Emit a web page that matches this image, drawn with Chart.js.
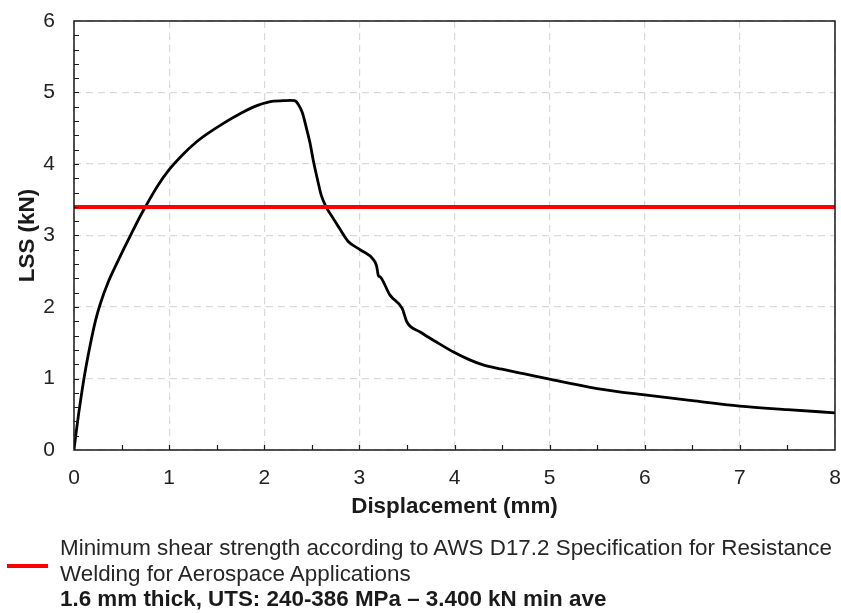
<!DOCTYPE html>
<html>
<head>
<meta charset="utf-8">
<script src="https://cdn.jsdelivr.net/npm/chart.js@4/dist/chart.umd.min.js"></script>
<style>
  html, body { margin: 0; padding: 0; background: #fff; }
  #wrap { position: relative; width: 841px; height: 613px; overflow: hidden; }
  canvas { position: absolute; left: 0; top: 0; }
  #legend { position: absolute; left: 0; top: 535px; width: 841px; font-family: "Liberation Sans", Arial, sans-serif; font-size: 22.4px; color: #262626; }
  #legend .swatch { position: absolute; left: 7px; top: 29px; width: 41px; height: 4px; background: #ff0000; }
  #legend .txt { position: absolute; left: 60px; top: 0; line-height: 25.5px; white-space: nowrap; }
  #legend b { color: #1a1a1a; }
</style>
</head>
<body>
<div id="wrap">
  <canvas id="c" width="841" height="613"></canvas>
  <div id="legend">
    <div class="swatch"></div>
    <div class="txt">Minimum shear strength according to AWS D17.2 Specification for Resistance<br>Welding for Aerospace Applications<br><b>1.6 mm thick, UTS: 240-386 MPa – 3.400 kN min ave</b></div>
  </div>
</div>
<script>
// ---- data ----
const displacement = [0, 0.02, 0.05, 0.088, 0.123, 0.175, 0.228, 0.28, 0.36, 0.45, 0.526, 0.62, 0.7, 0.754, 0.877, 1.0, 1.158, 1.28, 1.4, 1.579, 1.754, 1.93, 2.1, 2.2, 2.27, 2.32, 2.36, 2.4, 2.44, 2.48, 2.52, 2.56, 2.6, 2.65, 2.72, 2.8, 2.88, 3.01, 3.15, 3.18, 3.2, 3.22, 3.32, 3.45, 3.5, 3.64, 3.81, 3.99, 4.16, 4.3, 4.5, 4.75, 5.0, 5.5, 6.0, 6.5, 7.0, 7.5, 8.0];
const loadKN       = [0, 0.22, 0.52, 0.86, 1.14, 1.5, 1.82, 2.06, 2.35, 2.61, 2.82, 3.07, 3.28, 3.41, 3.69, 3.92, 4.15, 4.3, 4.42, 4.575, 4.71, 4.82, 4.88, 4.885, 4.89, 4.885, 4.83, 4.72, 4.52, 4.3, 4.02, 3.78, 3.56, 3.4, 3.25, 3.08, 2.92, 2.8, 2.66, 2.58, 2.44, 2.42, 2.17, 1.98, 1.79, 1.65, 1.51, 1.37, 1.26, 1.19, 1.13, 1.06, 0.99, 0.86, 0.77, 0.69, 0.615, 0.565, 0.52];
const minShearKN = 3.4;
const xRange = [0, 8];
const yRange = [0, 6];

const curvePts = displacement.map((d, i) => ({ x: d, y: loadKN[i] }));
const minPts = [{ x: xRange[0], y: minShearKN }, { x: xRange[1], y: minShearKN }];

const FONT = '"Liberation Sans", Arial, sans-serif';

const framePlugin = {
  id: 'frame',
  afterDatasetsDraw(chart) {
    const { ctx, chartArea: a, scales: { x, y } } = chart;
    ctx.save();
    ctx.strokeStyle = '#1a1a1a';
    ctx.lineWidth = 1.5;
    ctx.strokeRect(a.left, a.top, a.right - a.left, a.bottom - a.top);
    ctx.lineWidth = 1.2;
    ctx.beginPath();
    for (let v = yRange[0] + 0.2; v < yRange[1] - 1e-6; v += 0.2) {
      const py = Math.round(y.getPixelForValue(v)) + 0.5;
      ctx.moveTo(a.left, py); ctx.lineTo(a.left + 5, py);
    }
    for (let v = xRange[0] + 0.5; v < xRange[1] - 1e-6; v += 0.5) {
      const px = Math.round(x.getPixelForValue(v)) + 0.5;
      ctx.moveTo(px, a.bottom); ctx.lineTo(px, a.bottom - 5);
    }
    ctx.stroke();
    ctx.restore();
  }
};

new Chart(document.getElementById('c'), {
  type: 'scatter',
  data: {
    datasets: [
      { label: 'Minimum', data: minPts, showLine: true, borderColor: '#ff0000', borderWidth: 4, pointRadius: 0, fill: false },
      { label: 'LSS', data: curvePts, showLine: true, borderColor: '#000000', borderWidth: 2.8, pointRadius: 0, cubicInterpolationMode: 'monotone', fill: false }
    ]
  },
  options: {
    responsive: false,
    animation: false,
    devicePixelRatio: 1,
    layout: { autoPadding: false, padding: { top: 21, right: 6, left: 0, bottom: 93 } },
    plugins: { legend: { display: false }, tooltip: { enabled: false } },
    scales: {
      x: {
        type: 'linear', min: xRange[0], max: xRange[1],
        ticks: { stepSize: 1, color: '#222', font: { family: FONT, size: 21 }, padding: 16, maxRotation: 0 },
        grid: { color: '#d9d9d9', lineWidth: 1.2, drawTicks: false },
        border: { display: false, dash: [7, 5] },
        title: { display: true, text: 'Displacement (mm)', color: '#1a1a1a', font: { family: FONT, size: 22.4, weight: 'bold' }, padding: { top: 0, bottom: 0 } },
        afterFit(s) { s.height = 70; s.paddingLeft = 0; s.paddingRight = 0; }
      },
      y: {
        type: 'linear', min: yRange[0], max: yRange[1],
        ticks: { stepSize: 1, color: '#222', font: { family: FONT, size: 21 }, padding: 19 },
        grid: { color: '#d9d9d9', lineWidth: 1.2, drawTicks: false },
        border: { display: false, dash: [7, 5] },
        title: { display: true, text: 'LSS (kN)', color: '#1a1a1a', font: { family: FONT, size: 22.4, weight: 'bold' }, padding: { top: 14, bottom: 0 } },
        afterFit(s) { s.width = 74; s.paddingTop = 0; s.paddingBottom = 0; }
      }
    }
  },
  plugins: [framePlugin]
});
</script>
</body>
</html>
